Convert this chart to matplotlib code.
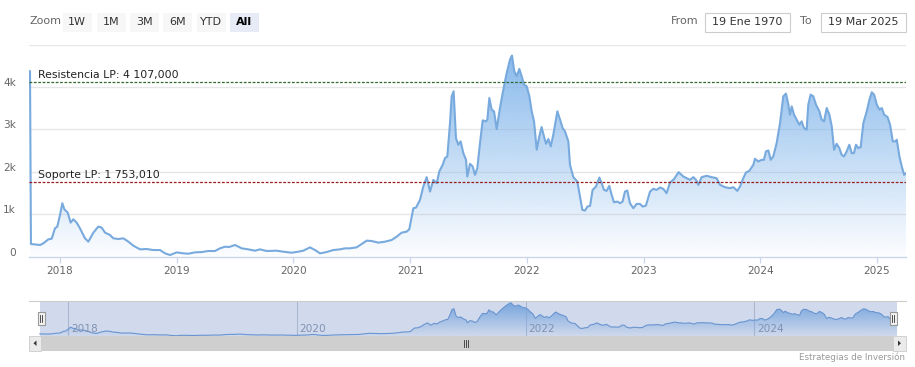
import numpy as np
import matplotlib
matplotlib.use("Agg")
import matplotlib.pyplot as plt
import matplotlib.colors as mcolors
import matplotlib.transforms as mtrans
from matplotlib.patches import Rectangle

plt.rcParams['font.family'] = ['DejaVu Sans']

# ---------------- data (decimal year, value) ----------------
dates = [
    2017.743, 2017.751, 2017.829, 2017.857, 2017.900, 2017.929, 2017.957, 2017.977, 2018.000, 2018.020,
    2018.037, 2018.066, 2018.091, 2018.114, 2018.143, 2018.171, 2018.214, 2018.243, 2018.286, 2018.328,
    2018.357, 2018.386, 2018.428, 2018.457, 2018.500, 2018.543, 2018.586, 2018.628, 2018.686, 2018.743,
    2018.800, 2018.857, 2018.900, 2018.943, 2019.000, 2019.057, 2019.100, 2019.157, 2019.214, 2019.271,
    2019.328, 2019.371, 2019.414, 2019.448, 2019.500, 2019.557, 2019.614, 2019.671,
    2019.714, 2019.771, 2019.857, 2019.914, 2019.985, 2020.042, 2020.085, 2020.142, 2020.185, 2020.228,
    2020.285, 2020.342, 2020.399, 2020.442, 2020.485, 2020.542, 2020.585, 2020.628, 2020.671, 2020.728,
    2020.785, 2020.842, 2020.885, 2020.928, 2020.971, 2020.993, 2021.028, 2021.051, 2021.085, 2021.113,
    2021.142, 2021.171, 2021.199, 2021.228, 2021.250, 2021.279, 2021.299, 2021.319, 2021.342, 2021.356,
    2021.373, 2021.393, 2021.413, 2021.433, 2021.456, 2021.479, 2021.490,
    2021.513, 2021.536, 2021.556, 2021.576, 2021.599, 2021.622, 2021.650, 2021.662, 2021.679, 2021.699,
    2021.719, 2021.742, 2021.770, 2021.799, 2021.828, 2021.856, 2021.873, 2021.893, 2021.913, 2021.936,
    2021.956, 2021.976, 2021.999, 2022.022, 2022.042, 2022.062, 2022.085, 2022.107, 2022.127, 2022.147,
    2022.165, 2022.185, 2022.205, 2022.227, 2022.262, 2022.285, 2022.307, 2022.327, 2022.356, 2022.370,
    2022.399, 2022.433, 2022.456, 2022.476, 2022.499, 2022.519, 2022.542, 2022.564, 2022.593, 2022.622,
    2022.642, 2022.661, 2022.684, 2022.707, 2022.727, 2022.747, 2022.776, 2022.799, 2022.821, 2022.841,
    2022.861, 2022.884, 2022.913, 2022.941, 2022.970, 2022.993, 2023.021, 2023.056, 2023.084, 2023.113,
    2023.141, 2023.170, 2023.198, 2023.227, 2023.261, 2023.301, 2023.341, 2023.370,
    2023.398, 2023.427, 2023.450, 2023.470, 2023.498, 2023.541, 2023.584, 2023.627, 2023.656, 2023.698,
    2023.741, 2023.770, 2023.804, 2023.827, 2023.855, 2023.878, 2023.907, 2023.941, 2023.955, 2023.984,
    2024.013, 2024.032, 2024.049, 2024.070, 2024.090, 2024.112, 2024.141, 2024.170, 2024.198, 2024.221,
    2024.241, 2024.255, 2024.270, 2024.290, 2024.312, 2024.335, 2024.355, 2024.375, 2024.398, 2024.412,
    2024.432, 2024.455, 2024.478, 2024.507, 2024.527, 2024.547, 2024.570, 2024.593, 2024.613, 2024.633,
    2024.655, 2024.678, 2024.698, 2024.718, 2024.741, 2024.764, 2024.784, 2024.803, 2024.821, 2024.841,
    2024.861, 2024.884, 2024.913, 2024.936, 2024.956, 2024.976, 2024.999, 2025.022, 2025.042, 2025.062,
    2025.091, 2025.113, 2025.136, 2025.159, 2025.170, 2025.193, 2025.213, 2025.233, 2025.250,
]
values = [
    4370, 299, 276, 315, 409, 425, 669, 709, 984, 1260,
    1118, 1039, 803, 882, 803, 669, 433, 354, 567, 709,
    685, 567, 512, 433, 417, 433, 354, 260, 173, 181,
    157, 157, 79, 39, 102, 79, 71, 102, 110, 134,
    134, 197, 236, 228, 276, 197, 173, 142,
    173, 134, 142, 118, 94, 118, 142, 220, 157, 79,
    110, 157, 173, 197, 197, 220, 299, 378, 370, 331,
    354, 394, 472, 567, 591, 646, 1142, 1157, 1339, 1654,
    1874, 1535, 1811, 1732, 2008, 2165, 2323, 2362, 3150, 3780,
    3898, 2795, 2638, 2717, 2441, 2283, 1890,
    2189, 2126, 1929, 2087, 2677, 3213, 3189, 3228, 3740, 3465,
    3425, 3008, 3504, 3937, 4331, 4646, 4740, 4370, 4252, 4425,
    4252, 4055, 4016, 3780, 3425, 3189, 2520, 2835, 3055, 2835,
    2661, 2772, 2598, 2874, 3425, 3228, 3031, 2953, 2717, 2165,
    1874, 1772, 1417, 1102, 1087, 1181, 1197, 1575, 1654, 1866,
    1732, 1575, 1551, 1669, 1457, 1283, 1299, 1260, 1299, 1535,
    1559, 1260, 1142, 1244, 1244, 1181, 1205, 1535, 1598, 1575,
    1630, 1598, 1496, 1748, 1827, 1992, 1890, 1850,
    1811, 1874, 1811, 1693, 1874, 1906, 1874, 1850, 1693, 1638,
    1614, 1638, 1551, 1654, 1850, 1984, 2024, 2165, 2307, 2244,
    2283, 2283, 2480, 2504, 2283, 2362, 2677, 3150, 3780, 3843,
    3583, 3346, 3543, 3346, 3228, 3110, 3189, 3031, 2992, 3583,
    3819, 3780, 3583, 3425, 3228, 3189, 3504, 3346, 3071, 2520,
    2661, 2559, 2402, 2362, 2480, 2638, 2441, 2441, 2638, 2559,
    2583, 3150, 3425, 3701, 3874, 3819, 3583, 3465, 3504, 3346,
    3291, 3110, 2717, 2717, 2756, 2362, 2126, 1929, 1969,
]
resistance = 4107.0
support = 1753.01
resistance_label = "Resistencia LP: 4 107,000"
support_label = "Soporte LP: 1 753,010"
year_ticks = [2018, 2019, 2020, 2021, 2022, 2023, 2024, 2025]
y_ticks = [0, 1000, 2000, 3000, 4000]
y_tick_labels = ["0", "1k", "2k", "3k", "4k"]
nav_years = [2018, 2020, 2022, 2024]
zoom_buttons = ["1W", "1M", "3M", "6M", "YTD", "All"]
from_date = "19 Ene 1970"
to_date = "19 Mar 2025"
credits = "Estrategias de Inversión"

W, H = 915, 367
fig = plt.figure(figsize=(W / 100, H / 100), dpi=100)
fig.patch.set_facecolor('white')


def px_axes(x0, y0, x1, y1):
    return fig.add_axes([x0 / W, 1 - y1 / H, (x1 - x0) / W, (y1 - y0) / H])


x = np.array(dates)
y = np.array(values, dtype=float)

LINE = '#78aade'
FILL = '#7cb2ea'


def gradient_fill(ax, xs, ys, color, top_alpha, ytop, zorder=1):
    poly = ax.fill_between(xs, ys, 0, facecolor='none', edgecolor='none', zorder=zorder)
    rgb = mcolors.to_rgb(color)
    grad = np.zeros((256, 1, 4))
    grad[:, :, 0] = rgb[0]
    grad[:, :, 1] = rgb[1]
    grad[:, :, 2] = rgb[2]
    grad[:, 0, 3] = np.linspace(top_alpha, 0.02, 256)
    im = ax.imshow(grad, aspect='auto', extent=[xs.min(), xs.max(), 0, ytop],
                   origin='upper', zorder=zorder, interpolation='bicubic')
    im.set_clip_path(poly.get_paths()[0], transform=ax.transData)
    return im


# ---------------- main chart ----------------
ax = px_axes(29, 44.5, 906, 256.7)
x_left = 2018 - 31 / 116.7
x_right = 2018 + 846 / 116.7
gradient_fill(ax, x, y, FILL, 0.9, y.max())
ax.plot(x, y, color=LINE, lw=1.5, zorder=3, solid_joinstyle='round')
ax.set_xlim(x_left, x_right)
ax.set_ylim(0, 5000)
for v in [1000, 2000, 3000, 4000, 5000]:
    ax.axhline(v, color='#e6e6e6', lw=0.9, zorder=0)
for s in ['top', 'right', 'left']:
    ax.spines[s].set_visible(False)
ax.spines['bottom'].set_color('#ccd6eb')
ax.spines['bottom'].set_linewidth(1.0)
ax.set_yticks([])
ax.set_xticks(year_ticks)
ax.set_xticklabels([str(t) for t in year_ticks], color='#666666', fontsize=7.6)
ax.tick_params(axis='x', length=4, width=0.9, color='#ccd6eb', pad=3)
ax.set_facecolor('none')

# y labels
for v, lab in zip(y_ticks, y_tick_labels):
    tr = mtrans.blended_transform_factory(fig.transFigure, ax.transData)
    tr = mtrans.offset_copy(tr, fig=fig, x=0, y=3.0, units='points')
    fig.text(16 / W, v, lab, transform=tr, ha='right', va='center',
             color='#666666', fontsize=7.6)

# plot lines
ax.axhline(resistance, color='#2f6a2f', lw=0.9, ls=(0, (2.2, 1.3)), zorder=4)
ax.axhline(support, color='#9a1c1c', lw=0.9, ls=(0, (2.2, 1.3)), zorder=4)
lt = mtrans.offset_copy(ax.transData, fig=fig, x=0, y=1.5, units='points')
ax.text(x_left + 9 / 116.7, resistance, resistance_label, transform=lt,
        ha='left', va='bottom', fontsize=7.8, color='#222222', zorder=5)
ax.text(x_left + 9 / 116.7, support, support_label, transform=lt,
        ha='left', va='bottom', fontsize=7.8, color='#222222', zorder=5)

# ---------------- navigator ----------------
nav = px_axes(29, 301, 905, 336)
nx_left = 2018 - (68.3 - 29) / 114.33
nx_right = 2018 + (905 - 68.3) / 114.33
nav.set_xlim(nx_left, nx_right)
nav.set_ylim(0, 5000)
nav.axis('off')
xn = x[1:]
yn = y[1:]
gradient_fill(nav, xn, yn, FILL, 1.0, yn.max(), zorder=1)
nav.plot(xn, yn, color='#6a9bd6', lw=0.8, zorder=2)
for yr in nav_years:
    nav.axvline(yr, color='#c8cdd8', lw=0.8, zorder=0)
    nav.text(yr + 2.5 / 114.33, 0, str(yr), ha='left', va='bottom', fontsize=7.6,
             color='#8d97ab', zorder=3,
             transform=mtrans.offset_copy(nav.transData, fig=fig, x=0, y=1.5, units='points'))
nav.add_patch(Rectangle((xn.min(), 0), xn.max() - xn.min(), 5000,
                        facecolor=(102 / 255, 133 / 255, 194 / 255, 0.3),
                        edgecolor='none', zorder=4))
nav.set_xlim(nx_left, nx_right)
nav.set_ylim(0, 5000)

# ---------------- decorations in pixel coordinates ----------------
deco = fig.add_axes([0, 0, 1, 1])
deco.set_xlim(0, W)
deco.set_ylim(H, 0)
deco.axis('off')
deco.patch.set_visible(False)
deco.set_zorder(10)

# range selector
deco.text(29, 21.5, "Zoom", ha='left', va='center', fontsize=8, color='#666666')
btn_x = [63, 97, 130, 163, 197, 230]
for bx, lab in zip(btn_x, zoom_buttons):
    sel = lab == "All"
    deco.add_patch(Rectangle((bx, 12.5), 28.5, 19, facecolor='#e6ebf5' if sel else '#f7f7f7',
                             edgecolor='none'))
    deco.text(bx + 14.25, 22, lab, ha='center', va='center', fontsize=8,
              color='#000000' if sel else '#333333', fontweight='bold' if sel else 'normal')

deco.text(671, 21.5, "From", ha='left', va='center', fontsize=8, color='#666666')
deco.add_patch(Rectangle((704.5, 12.5), 85, 19, facecolor='white', edgecolor='#cccccc', lw=0.8))
deco.text(747, 22, from_date, ha='center', va='center', fontsize=8, color='#333333')
deco.text(800, 21.5, "To", ha='left', va='center', fontsize=8, color='#666666')
deco.add_patch(Rectangle((820.5, 12.5), 85, 19, facecolor='white', edgecolor='#cccccc', lw=0.8))
deco.text(863, 22, to_date, ha='center', va='center', fontsize=8, color='#333333')

# navigator outline and handles
deco.plot([28.5, 905.5], [301, 301], color='#cccccc', lw=0.8)
for hx in [37.5, 889.5]:
    deco.add_patch(Rectangle((hx, 312), 7, 13, facecolor='#f2f2f2', edgecolor='#999999', lw=0.8))
    deco.plot([hx + 2.8, hx + 2.8], [315, 322], color='#333333', lw=0.6)
    deco.plot([hx + 4.2, hx + 4.2], [315, 322], color='#333333', lw=0.6)

# scrollbar
deco.add_patch(Rectangle((28.5, 336), 877, 14.5, facecolor='#f2f2f2', edgecolor='none'))
deco.add_patch(Rectangle((41, 336), 852, 14.5, facecolor='#cfcfcf', edgecolor='none'))
deco.add_patch(Rectangle((28.5, 336), 12.5, 14.5, facecolor='#ebebeb', edgecolor='#cccccc', lw=0.6))
deco.add_patch(Rectangle((893, 336), 12.5, 14.5, facecolor='#ebebeb', edgecolor='#cccccc', lw=0.6))
deco.fill([36.5, 33.5, 36.5], [340.5, 343.2, 346], color='#333333', lw=0)
deco.fill([898, 901, 898], [340.5, 343.2, 346], color='#333333', lw=0)
for gx in [463.5, 465.5, 467.5]:
    deco.plot([gx, gx], [340, 346.5], color='#333333', lw=0.6)

# credits
deco.text(905, 357, credits, ha='right', va='center', fontsize=6.3, color='#999999')

fig.savefig('out.png', dpi=100, facecolor='white')
